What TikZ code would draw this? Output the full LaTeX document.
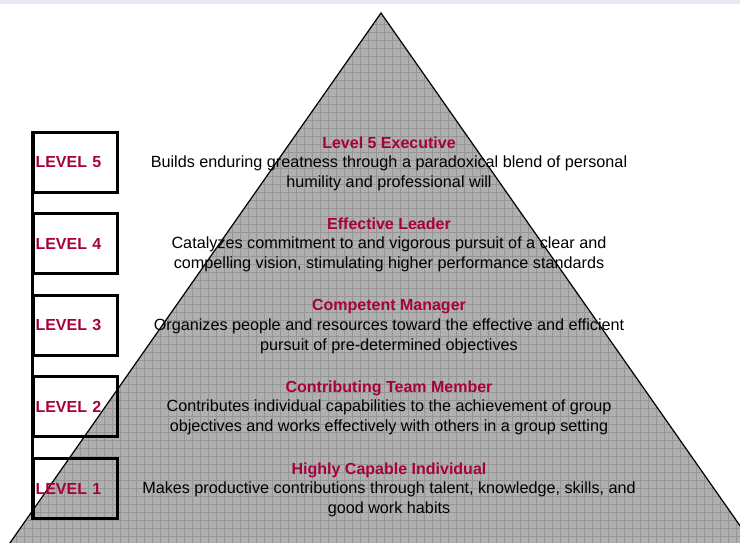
\documentclass[tikz,border=0pt]{standalone}
\usepackage{fontspec}
\setmainfont{Liberation Sans}
\usetikzlibrary{positioning}
\definecolor{levelred}{HTML}{A8003E}
\definecolor{pyrgray}{HTML}{B0B0B0}
\definecolor{gridgray}{HTML}{969696}
\definecolor{topband}{HTML}{E7E9F1}
\tikzset{
  pyramid/.style   = {draw=black, line width=1.2pt},
  gridline/.style  = {draw=gridgray, line width=0.8pt},
  levelbox/.style  = {draw=black, line width=2.8pt, minimum width=84pt,
                      minimum height=60pt, text width=80pt, inner sep=2pt,
                      align=left, text=levelred,
                      font=\bfseries\fontsize{16}{18}\selectfont},
  spine/.style     = {line width=2.8pt},
  desc/.style      = {align=center, inner sep=0pt,
                      font=\fontsize{16.2}{19.6}\selectfont},
}
\newcommand{\leveltitle}[1]{{\color{levelred}\bfseries\fontsize{16}{19.6}\selectfont #1}}

\begin{document}
\begin{tikzpicture}[x=1pt,y=-1pt]
  \useasboundingbox (0,0) rectangle (740,543);
  \clip (0,0) rectangle (740,543);
  \fill[topband] (0,0) rectangle (740,4);

  % pyramid with its grid texture
  \coordinate (apex) at (381,13);
  \coordinate (baseL) at (-2,560);
  \coordinate (baseR) at (764,560);
  \begin{scope}
    \clip (apex) -- (baseR) -- (baseL) -- cycle;
    \fill[pyrgray] (0,0) rectangle (740,543);
    \draw[gridline] (0,4) grid[step=8pt] (744,548);
  \end{scope}
  \draw[pyramid] (baseL) -- (apex) -- (baseR);

  % level boxes on the left
  \node[levelbox] (lvl5) at (75.5,162.5) {LEVEL 5};
  \node[levelbox] (lvl4) at (75.5,243.5) {LEVEL 4};
  \node[levelbox] (lvl3) at (75.5,325.5) {LEVEL 3};
  \node[levelbox] (lvl2) at (75.5,406.5) {LEVEL 2};
  \node[levelbox] (lvl1) at (75.5,488.5) {LEVEL 1};
  \draw[spine] (lvl5.north west) -- (lvl1.south west);

  % descriptions inside the pyramid
  \node[desc] (desc5) at (389,163.5) {\leveltitle{Level 5 Executive}\\
    Builds enduring greatness through a paradoxical blend of personal\\
    humility and professional will};
  \node[desc] (desc4) at (389,244.5) {\leveltitle{Effective Leader}\\
    Catalyzes commitment to and vigorous pursuit of a clear and\\
    compelling vision, stimulating higher performance standards};
  \node[desc] (desc3) at (389,326.5) {\leveltitle{Competent Manager}\\
    Organizes people and resources toward the effective and efficient\\
    pursuit of pre-determined objectives};
  \node[desc] (desc2) at (389,407.5) {\leveltitle{Contributing Team Member}\\
    Contributes individual capabilities to the achievement of group\\
    objectives and works effectively with others in a group setting};
  \node[desc] (desc1) at (389,489.5) {\leveltitle{Highly Capable Individual}\\
    Makes productive contributions through talent, knowledge, skills, and\\
    good work habits};
\end{tikzpicture}
\end{document}
